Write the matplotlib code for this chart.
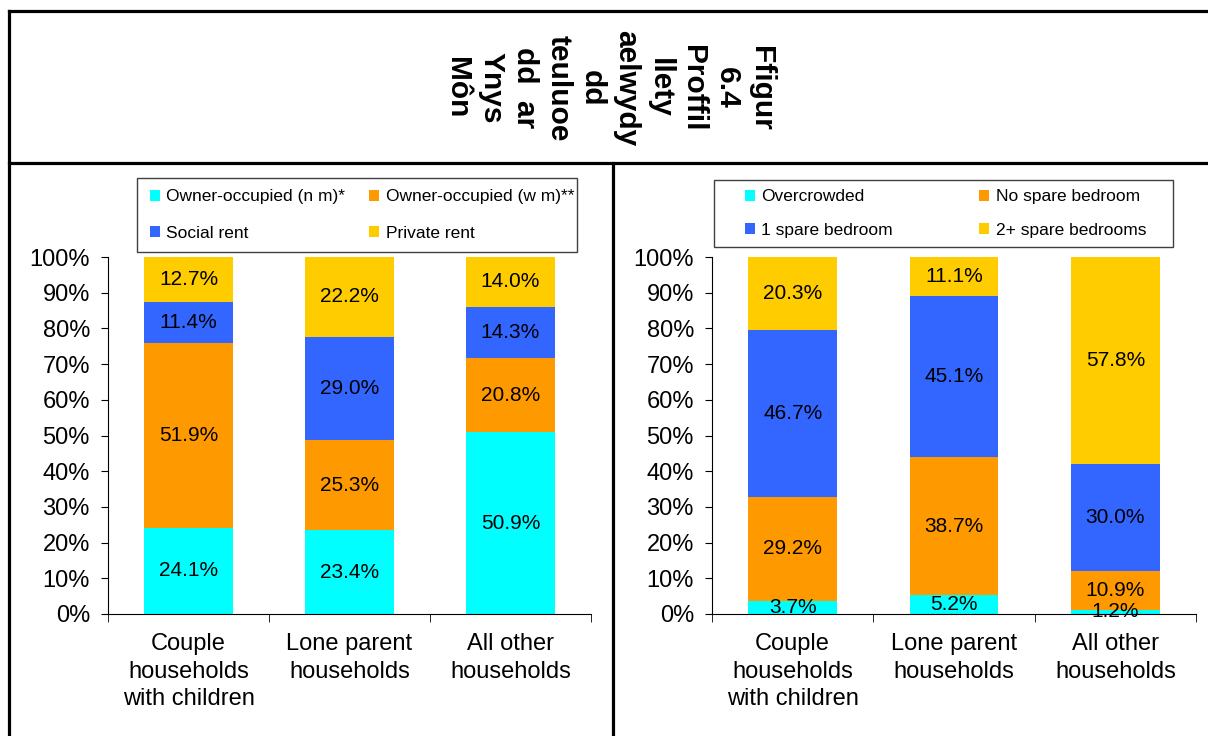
import numpy as np
import matplotlib
matplotlib.use("Agg")
import matplotlib.pyplot as plt
from matplotlib.lines import Line2D
from matplotlib.patches import Patch, Rectangle

plt.rcParams['font.family'] = ['Liberation Sans', 'DejaVu Sans']

# data
categories = ["Couple\nhouseholds\nwith children", "Lone parent\nhouseholds", "All other\nhouseholds"]

tenure_labels = ["Owner-occupied (n m)*", "Owner-occupied (w m)**", "Social rent", "Private rent"]
owner_nm = [24.1, 23.4, 50.9]
owner_wm = [51.9, 25.3, 20.8]
social_rent = [11.4, 29.0, 14.3]
private_rent = [12.7, 22.2, 14.0]

bedroom_labels = ["Overcrowded", "No spare bedroom", "1 spare bedroom", "2+ spare bedrooms"]
overcrowded = [3.7, 5.2, 1.2]
no_spare = [29.2, 38.7, 10.9]
one_spare = [46.7, 45.1, 30.0]
two_spare = [20.3, 11.1, 57.8]

colors = ["#00FFFF", "#FF9900", "#3366FF", "#FFCC00"]

title = "Ffigur\n6.4\nProffil\nllety\naelwydy\ndd\nteuluoe\ndd  ar\nYnys\nMôn"

W, H = 1208, 736
fig = plt.figure(figsize=(W / 100, H / 100), dpi=100)


def fx(px):
    return px / W


def fy(py):
    return 1 - py / H


# table border lines
lw = 2.3
for (x0, y0, x1, y1) in [(9, 11, W, 11), (9, 11, 9, H), (9, 163, W, 163), (613, 163, 613, H)]:
    fig.add_artist(Line2D([fx(x0), fx(x1)], [fy(y0), fy(y1)], color="black", lw=lw))

fig.text(fx(609), fy(88), title, rotation=-90, ha="center", va="center",
         multialignment="center", fontsize=21.5, fontweight="bold", linespacing=1.26)


def stacked(ax, series, labels, frame_box, inner_box, row_gap):
    x = np.arange(len(categories))
    bottom = np.zeros(len(categories))
    handles = []
    for vals, lab, col in zip(series, labels, colors):
        vals = np.array(vals)
        ax.bar(x, vals, 0.55, bottom=bottom, color=col, edgecolor="none")
        for xi, b, v in zip(x, bottom, vals):
            ax.text(xi, b + v / 2, f"{v:.1f}%", ha="center", va="center", fontsize=15)
        bottom = bottom + vals
        handles.append(Patch(facecolor=col, edgecolor="none", label=lab))
    ax.set_xlim(-0.5, 2.5)
    ax.set_ylim(0, 100)
    ax.set_yticks(np.arange(0, 101, 10))
    ax.set_yticklabels([f"{v}%" for v in range(0, 101, 10)], fontsize=17)
    ax.set_xticks(x)
    ax.set_xticklabels(categories, fontsize=17, linespacing=1.3)
    ax.set_xticks([-0.5, 0.5, 1.5, 2.5], minor=True)
    ax.tick_params(axis="x", which="major", length=0, pad=14)
    ax.tick_params(axis="x", which="minor", length=6, direction="out")
    ax.tick_params(axis="y", length=5, direction="out", pad=8)
    for s in ["top", "right"]:
        ax.spines[s].set_visible(False)

    # legend frame drawn separately so the entries can sit indented
    bx0, by0, bx1, by1 = frame_box
    fig.add_artist(Rectangle((fx(bx0), fy(by1)), fx(bx1) - fx(bx0), fy(by0) - fy(by1),
                             transform=fig.transFigure, fill=False,
                             edgecolor="#404040", lw=1.0))
    order = [handles[0], handles[2], handles[1], handles[3]]
    lx0, ly0, lx1, ly1 = inner_box
    fig.legend(handles=order, ncol=2, loc="center",
               bbox_to_anchor=(fx(lx0), fy(ly1), fx(lx1) - fx(lx0), fy(ly0) - fy(ly1)),
               mode="expand", fontsize=12.5, frameon=False,
               handlelength=0.6, handleheight=0.6, handletextpad=0.35,
               borderpad=0, labelspacing=row_gap, borderaxespad=0)


ax1 = fig.add_axes([fx(108), fy(614), fx(591) - fx(108), fy(257) - fy(614)])
stacked(ax1, [owner_nm, owner_wm, social_rent, private_rent], tenure_labels,
        (137, 178, 577, 252), (150, 185, 574, 245), 1.25)

ax2 = fig.add_axes([fx(712), fy(614), fx(1196) - fx(712), fy(257) - fy(614)])
stacked(ax2, [overcrowded, no_spare, one_spare, two_spare], bedroom_labels,
        (714, 180, 1173, 247), (745, 187, 1146, 240), 1.05)

fig.savefig("out.png", dpi=100)
